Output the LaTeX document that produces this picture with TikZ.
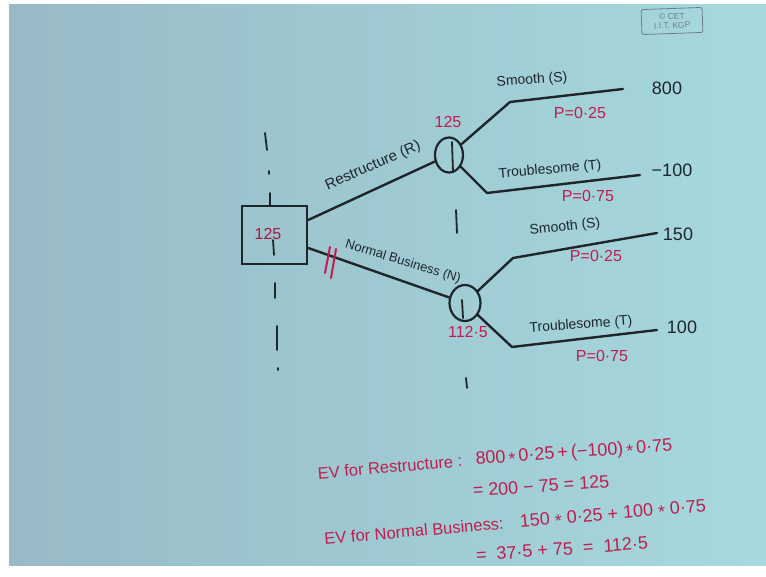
\documentclass[tikz,border=0pt]{standalone}
\usepackage{fontspec}
\setmainfont{Liberation Sans}
\usetikzlibrary{shapes.geometric}
\definecolor{ink}{RGB}{30,38,44}
\definecolor{rink}{RGB}{190,30,80}
\definecolor{bgL}{RGB}{152,186,198}
\definecolor{bgR}{RGB}{166,217,222}
\definecolor{stampc}{RGB}{105,128,142}
\newcommand\mystar{\raisebox{-0.35ex}{*}}
\begin{document}
\begin{tikzpicture}[x=1pt,y=-1pt,
  wire/.style={draw=ink, line width=2.4pt, line cap=round, line join=round},
  chance/.style={ellipse, draw=ink, line width=2.2pt, inner sep=0pt},
  lbl/.style={text=ink, font=\fontsize{14}{14}\selectfont, inner sep=0pt},
  rlbl/.style={text=rink, font=\fontsize{16}{16}\selectfont, inner sep=0pt},
  pay/.style={text=ink, font=\fontsize{18}{18}\selectfont, inner sep=0pt},
  evl/.style={text=rink, font=\fontsize{16.5}{16.5}\selectfont, inner sep=0pt},
  eqn/.style={text=rink, font=\fontsize{18}{18}\selectfont, inner sep=0pt},
  guide/.style={draw=ink, line width=1.8pt, line cap=round}]

\useasboundingbox (0,0) rectangle (766,577);
\fill[white] (0,0) rectangle (766,577);
\shade[left color=bgL, right color=bgR] (9,5) rectangle (766,565);

% stamp
\node[draw=stampc, rounded corners=2pt, line width=0.8pt, text=stampc,
      font=\fontsize{8.5}{9}\selectfont, align=center, minimum width=61pt,
      minimum height=25pt, inner sep=0pt, rotate=2] (stamp) at (672,21) {© CET\\I.I.T. KGP};

% guide lines
\draw[guide] (265,133) -- (267,150);
\draw[guide] (269,171) -- (269,174);
\draw[guide] (270,193) -- (270,205);
\draw[guide] (273,240) -- (274,255);
\draw[guide] (275,283) -- (275,298);
\draw[guide] (277,326) -- (277,350);
\draw[guide] (278,368) -- (278,370);
\draw[guide] (452,142) -- (453,172);
\draw[guide] (456,210) -- (457,233);
\draw[guide] (462,300) -- (463,318);
\draw[guide] (466,378) -- (467,388);

% nodes
\node[draw=ink, line width=2.4pt, minimum width=65pt, minimum height=58pt, inner sep=0pt] (dec) at (274.5,235) {};
\node[rlbl, text=rink!85!black] (v0) at (268,234) {125};
\node[chance, minimum width=28pt, minimum height=35pt] (c1) at (449,155) {};
\node[chance, minimum width=31pt, minimum height=36pt] (c2) at (465,303) {};
\node[rlbl] (v1) at (448,122) {125};
\node[rlbl] (v2) at (468,332) {112·5};

% branch points
\coordinate (s1) at (510,102); \coordinate (e1) at (623,89);
\coordinate (s2) at (487,193); \coordinate (e2) at (640,175);
\coordinate (s3) at (513,258); \coordinate (e3) at (657,233);
\coordinate (s4) at (512,347); \coordinate (e4) at (657,330);

% connectors
\draw[wire] ([yshift=15pt]dec.east) -- (c1);
\draw[wire] ([yshift=-13pt]dec.east) -- (c2);
\draw[wire] (c1) -- (s1) -- (e1);
\draw[wire] (c1) -- (s2) -- (e2);
\draw[wire] (c2) -- (s3) -- (e3);
\draw[wire] (c2) -- (s4) -- (e4);

% pruned mark
\draw[rink, line width=2pt, line cap=round] (330,247) -- (325,273);
\draw[rink, line width=2pt, line cap=round] (336,249) -- (331,278);

% labels
\node[lbl, font=\fontsize{15}{15}\selectfont, rotate=24] (lR) at (373,166) {Restructure (R)};
\node[lbl, font=\fontsize{13}{13}\selectfont, rotate=-17] (lN) at (403,262) {Normal Business (N)};

\node[lbl, rotate=4] (t1) at (532,80) {Smooth (S)};
\node[rlbl] (p1) at (580,113) {P=0·25};
\node[pay] (o1) at (667,88) {800};

\node[lbl, rotate=5] (t2) at (550,170) {Troublesome (T)};
\node[rlbl] (p2) at (588,196) {P=0·75};
\node[pay] (o2) at (672,170) {−100};

\node[lbl, rotate=6] (t3) at (565,227) {Smooth (S)};
\node[rlbl] (p3) at (596,256) {P=0·25};
\node[pay] (o3) at (678,234) {150};

\node[lbl, rotate=4] (t4) at (581,325) {Troublesome (T)};
\node[rlbl] (p4) at (602,356) {P=0·75};
\node[pay] (o4) at (682,327) {100};

% expected values
\node[evl, rotate=5] (ev1) at (390,467) {EV for Restructure :};
\node[eqn, rotate=4] (eq1) at (574,453) {800\,\mystar\,0·25\,+\,(−100)\,\mystar\,0·75};
\node[eqn, rotate=4] (eq2) at (541,486) {= 200 − 75 = 125};
\node[evl, rotate=5] (ev2) at (414,531) {EV for Normal Business:};
\node[eqn, rotate=5] (eq3) at (613,515) {150 \mystar\ 0·25 + 100 \mystar\ 0·75};
\node[eqn, rotate=4] (eq4) at (562,549) {=\ \ 37·5 + 75\ \ =\ \ 112·5};
\end{tikzpicture}
\end{document}
